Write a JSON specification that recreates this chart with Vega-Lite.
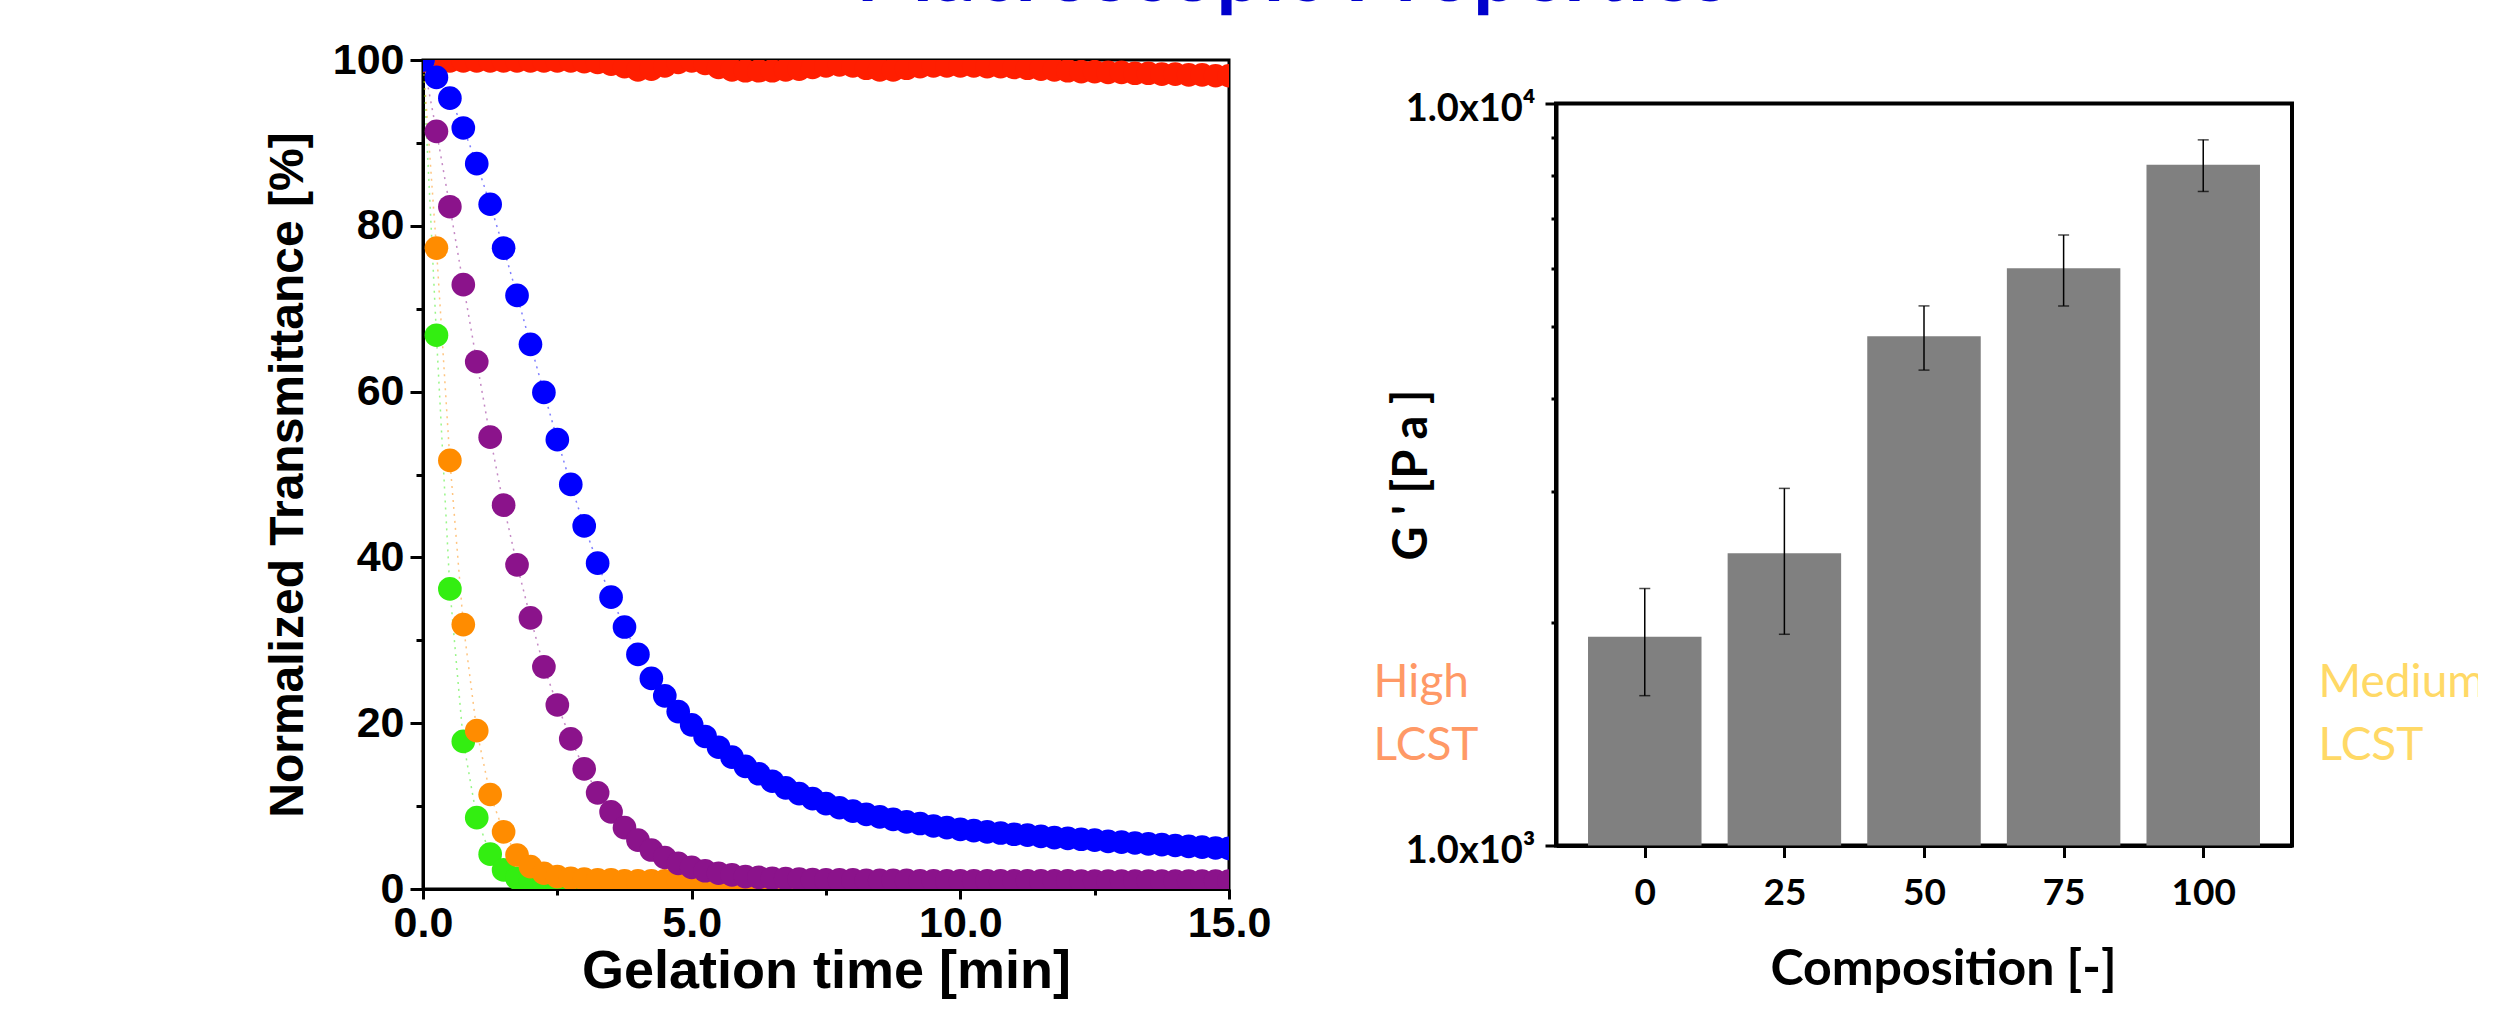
{
  "$schema": "https://vega.github.io/schema/vega-lite/v6.json",
  "background": "white",
  "padding": {"left": 262, "top": -66, "right": -10, "bottom": 8},
  "title": {"text": "Macroscopic Properties", "anchor": "start", "frame": "bounds", "align": "center", "dx": 1030, "offset": -46, "baseline": "alphabetic", "font": "Lato", "fontSize": 83, "fontWeight": "bold", "color": "#0000CC"},
  "spacing": 327,
  "bounds": "flush",
  "center": true,
  "config": {"axis": {"grid": false}},
  "hconcat": [
    {
      "width": 806,
      "height": 829,
      "view": {"stroke": "black", "strokeWidth": 3},
      "data": {"values": [
        {"s":"red","t":0,"v":99.9},{"s":"red","t":0.25,"v":99.9},{"s":"red","t":0.5,"v":99.9},{"s":"red","t":0.75,"v":99.9},{"s":"red","t":1,"v":99.9},{"s":"red","t":1.25,"v":99.9},{"s":"red","t":1.5,"v":99.9},{"s":"red","t":1.75,"v":99.9},{"s":"red","t":2,"v":99.9},{"s":"red","t":2.25,"v":99.9},{"s":"red","t":2.5,"v":99.9},{"s":"red","t":2.75,"v":99.9},{"s":"red","t":3,"v":99.8},{"s":"red","t":3.25,"v":99.7},{"s":"red","t":3.5,"v":99.5},{"s":"red","t":3.75,"v":99.2},{"s":"red","t":4,"v":98.8},{"s":"red","t":4.25,"v":98.9},{"s":"red","t":4.5,"v":99.3},{"s":"red","t":4.75,"v":99.7},{"s":"red","t":5,"v":99.9},{"s":"red","t":5.25,"v":99.6},{"s":"red","t":5.5,"v":99.1},{"s":"red","t":5.75,"v":98.8},{"s":"red","t":6,"v":98.7},{"s":"red","t":6.25,"v":98.7},{"s":"red","t":6.5,"v":98.7},{"s":"red","t":6.75,"v":98.8},{"s":"red","t":7,"v":98.9},{"s":"red","t":7.25,"v":99.1},{"s":"red","t":7.5,"v":99.3},{"s":"red","t":7.75,"v":99.4},{"s":"red","t":8,"v":99.3},{"s":"red","t":8.25,"v":99.0},{"s":"red","t":8.5,"v":98.8},{"s":"red","t":8.75,"v":98.8},{"s":"red","t":9,"v":99.0},{"s":"red","t":9.25,"v":99.2},{"s":"red","t":9.5,"v":99.3},{"s":"red","t":9.75,"v":99.3},{"s":"red","t":10,"v":99.3},{"s":"red","t":10.25,"v":99.3},{"s":"red","t":10.5,"v":99.2},{"s":"red","t":10.75,"v":99.2},{"s":"red","t":11,"v":99.1},{"s":"red","t":11.25,"v":99.0},{"s":"red","t":11.5,"v":98.9},{"s":"red","t":11.75,"v":98.8},{"s":"red","t":12,"v":98.7},{"s":"red","t":12.25,"v":98.6},{"s":"red","t":12.5,"v":98.6},{"s":"red","t":12.75,"v":98.5},{"s":"red","t":13,"v":98.5},{"s":"red","t":13.25,"v":98.4},{"s":"red","t":13.5,"v":98.4},{"s":"red","t":13.75,"v":98.3},{"s":"red","t":14,"v":98.3},{"s":"red","t":14.25,"v":98.2},{"s":"red","t":14.5,"v":98.2},{"s":"red","t":14.75,"v":98.1},{"s":"red","t":15,"v":98.1},
        {"s":"green","t":0,"v":100},{"s":"green","t":0.25,"v":66.8},{"s":"green","t":0.5,"v":36.2},{"s":"green","t":0.75,"v":17.8},{"s":"green","t":1,"v":8.6},{"s":"green","t":1.25,"v":4.2},{"s":"green","t":1.5,"v":2.3},{"s":"green","t":1.75,"v":1.3},{"s":"green","t":2,"v":0.9},{"s":"green","t":2.25,"v":0.7},{"s":"green","t":2.5,"v":0.6},{"s":"green","t":2.75,"v":0.5},{"s":"green","t":3,"v":0.5},{"s":"green","t":3.25,"v":0.5},{"s":"green","t":3.5,"v":0.5},{"s":"green","t":3.75,"v":0.5},{"s":"green","t":4,"v":0.5},{"s":"green","t":4.25,"v":0.5},{"s":"green","t":4.5,"v":0.5},{"s":"green","t":4.75,"v":0.5},{"s":"green","t":5,"v":0.5},{"s":"green","t":5.25,"v":0.5},{"s":"green","t":5.5,"v":0.5},{"s":"green","t":5.75,"v":0.5},{"s":"green","t":6,"v":0.5},{"s":"green","t":6.25,"v":0.5},{"s":"green","t":6.5,"v":0.5},{"s":"green","t":6.75,"v":0.5},{"s":"green","t":7,"v":0.5},{"s":"green","t":7.25,"v":0.5},{"s":"green","t":7.5,"v":0.5},{"s":"green","t":7.75,"v":0.4},{"s":"green","t":8,"v":0.4},{"s":"green","t":8.25,"v":0.4},{"s":"green","t":8.5,"v":0.4},{"s":"green","t":8.75,"v":0.4},{"s":"green","t":9,"v":0.4},{"s":"green","t":9.25,"v":0.4},{"s":"green","t":9.5,"v":0.4},{"s":"green","t":9.75,"v":0.4},{"s":"green","t":10,"v":0.4},{"s":"green","t":10.25,"v":0.4},{"s":"green","t":10.5,"v":0.4},{"s":"green","t":10.75,"v":0.4},{"s":"green","t":11,"v":0.4},{"s":"green","t":11.25,"v":0.4},{"s":"green","t":11.5,"v":0.4},{"s":"green","t":11.75,"v":0.4},{"s":"green","t":12,"v":0.4},{"s":"green","t":12.25,"v":0.4},{"s":"green","t":12.5,"v":0.4},{"s":"green","t":12.75,"v":0.4},{"s":"green","t":13,"v":0.4},{"s":"green","t":13.25,"v":0.4},{"s":"green","t":13.5,"v":0.4},{"s":"green","t":13.75,"v":0.4},{"s":"green","t":14,"v":0.4},{"s":"green","t":14.25,"v":0.4},{"s":"green","t":14.5,"v":0.4},{"s":"green","t":14.75,"v":0.4},{"s":"green","t":15,"v":0.4},
        {"s":"orange","t":0,"v":100},{"s":"orange","t":0.25,"v":77.3},{"s":"orange","t":0.5,"v":51.7},{"s":"orange","t":0.75,"v":31.9},{"s":"orange","t":1,"v":19.1},{"s":"orange","t":1.25,"v":11.4},{"s":"orange","t":1.5,"v":6.9},{"s":"orange","t":1.75,"v":4.1},{"s":"orange","t":2,"v":2.7},{"s":"orange","t":2.25,"v":1.9},{"s":"orange","t":2.5,"v":1.5},{"s":"orange","t":2.75,"v":1.3},{"s":"orange","t":3,"v":1.2},{"s":"orange","t":3.25,"v":1.1},{"s":"orange","t":3.5,"v":1.1},{"s":"orange","t":3.75,"v":1.0},{"s":"orange","t":4,"v":1.0},{"s":"orange","t":4.25,"v":1.0},{"s":"orange","t":4.5,"v":1.0},{"s":"orange","t":4.75,"v":1.0},{"s":"orange","t":5,"v":1.0},{"s":"orange","t":5.25,"v":1.0},{"s":"orange","t":5.5,"v":1.0},{"s":"orange","t":5.75,"v":1.0},{"s":"orange","t":6,"v":1.0},{"s":"orange","t":6.25,"v":0.9},{"s":"orange","t":6.5,"v":0.9},{"s":"orange","t":6.75,"v":0.9},{"s":"orange","t":7,"v":0.9},{"s":"orange","t":7.25,"v":0.9},{"s":"orange","t":7.5,"v":0.9},{"s":"orange","t":7.75,"v":0.9},{"s":"orange","t":8,"v":0.9},{"s":"orange","t":8.25,"v":0.9},{"s":"orange","t":8.5,"v":0.9},{"s":"orange","t":8.75,"v":0.9},{"s":"orange","t":9,"v":0.9},{"s":"orange","t":9.25,"v":0.8},{"s":"orange","t":9.5,"v":0.8},{"s":"orange","t":9.75,"v":0.8},{"s":"orange","t":10,"v":0.8},{"s":"orange","t":10.25,"v":0.8},{"s":"orange","t":10.5,"v":0.8},{"s":"orange","t":10.75,"v":0.8},{"s":"orange","t":11,"v":0.8},{"s":"orange","t":11.25,"v":0.8},{"s":"orange","t":11.5,"v":0.8},{"s":"orange","t":11.75,"v":0.8},{"s":"orange","t":12,"v":0.8},{"s":"orange","t":12.25,"v":0.8},{"s":"orange","t":12.5,"v":0.8},{"s":"orange","t":12.75,"v":0.8},{"s":"orange","t":13,"v":0.8},{"s":"orange","t":13.25,"v":0.8},{"s":"orange","t":13.5,"v":0.8},{"s":"orange","t":13.75,"v":0.8},{"s":"orange","t":14,"v":0.8},{"s":"orange","t":14.25,"v":0.8},{"s":"orange","t":14.5,"v":0.8},{"s":"orange","t":14.75,"v":0.8},{"s":"orange","t":15,"v":0.8},
        {"s":"purple","t":0,"v":100},{"s":"purple","t":0.25,"v":91.4},{"s":"purple","t":0.5,"v":82.3},{"s":"purple","t":0.75,"v":72.9},{"s":"purple","t":1,"v":63.6},{"s":"purple","t":1.25,"v":54.5},{"s":"purple","t":1.5,"v":46.3},{"s":"purple","t":1.75,"v":39.1},{"s":"purple","t":2,"v":32.7},{"s":"purple","t":2.25,"v":26.8},{"s":"purple","t":2.5,"v":22.2},{"s":"purple","t":2.75,"v":18.1},{"s":"purple","t":3,"v":14.5},{"s":"purple","t":3.25,"v":11.6},{"s":"purple","t":3.5,"v":9.3},{"s":"purple","t":3.75,"v":7.4},{"s":"purple","t":4,"v":5.9},{"s":"purple","t":4.25,"v":4.7},{"s":"purple","t":4.5,"v":3.8},{"s":"purple","t":4.75,"v":3.1},{"s":"purple","t":5,"v":2.6},{"s":"purple","t":5.25,"v":2.2},{"s":"purple","t":5.5,"v":1.9},{"s":"purple","t":5.75,"v":1.7},{"s":"purple","t":6,"v":1.5},{"s":"purple","t":6.25,"v":1.4},{"s":"purple","t":6.5,"v":1.3},{"s":"purple","t":6.75,"v":1.25},{"s":"purple","t":7,"v":1.2},{"s":"purple","t":7.25,"v":1.15},{"s":"purple","t":7.5,"v":1.1},{"s":"purple","t":7.75,"v":1.1},{"s":"purple","t":8,"v":1.1},{"s":"purple","t":8.25,"v":1.05},{"s":"purple","t":8.5,"v":1.05},{"s":"purple","t":8.75,"v":1.05},{"s":"purple","t":9,"v":1.05},{"s":"purple","t":9.25,"v":1.0},{"s":"purple","t":9.5,"v":1.0},{"s":"purple","t":9.75,"v":1.0},{"s":"purple","t":10,"v":1.0},{"s":"purple","t":10.25,"v":1.0},{"s":"purple","t":10.5,"v":1.0},{"s":"purple","t":10.75,"v":1.0},{"s":"purple","t":11,"v":1.0},{"s":"purple","t":11.25,"v":1.0},{"s":"purple","t":11.5,"v":1.0},{"s":"purple","t":11.75,"v":1.0},{"s":"purple","t":12,"v":1.0},{"s":"purple","t":12.25,"v":0.95},{"s":"purple","t":12.5,"v":0.95},{"s":"purple","t":12.75,"v":0.95},{"s":"purple","t":13,"v":0.95},{"s":"purple","t":13.25,"v":0.95},{"s":"purple","t":13.5,"v":0.95},{"s":"purple","t":13.75,"v":0.95},{"s":"purple","t":14,"v":0.95},{"s":"purple","t":14.25,"v":0.95},{"s":"purple","t":14.5,"v":0.95},{"s":"purple","t":14.75,"v":0.95},{"s":"purple","t":15,"v":0.95},
        {"s":"blue","t":0,"v":100},{"s":"blue","t":0.25,"v":97.9},{"s":"blue","t":0.5,"v":95.4},{"s":"blue","t":0.75,"v":91.8},{"s":"blue","t":1,"v":87.5},{"s":"blue","t":1.25,"v":82.6},{"s":"blue","t":1.5,"v":77.3},{"s":"blue","t":1.75,"v":71.6},{"s":"blue","t":2,"v":65.7},{"s":"blue","t":2.25,"v":59.9},{"s":"blue","t":2.5,"v":54.2},{"s":"blue","t":2.75,"v":48.8},{"s":"blue","t":3,"v":43.8},{"s":"blue","t":3.25,"v":39.3},{"s":"blue","t":3.5,"v":35.2},{"s":"blue","t":3.75,"v":31.6},{"s":"blue","t":4,"v":28.3},{"s":"blue","t":4.25,"v":25.4},{"s":"blue","t":4.5,"v":23.3},{"s":"blue","t":4.75,"v":21.4},{"s":"blue","t":5,"v":19.8},{"s":"blue","t":5.25,"v":18.4},{"s":"blue","t":5.5,"v":17.1},{"s":"blue","t":5.75,"v":15.9},{"s":"blue","t":6,"v":14.8},{"s":"blue","t":6.25,"v":13.9},{"s":"blue","t":6.5,"v":13.0},{"s":"blue","t":6.75,"v":12.2},{"s":"blue","t":7,"v":11.5},{"s":"blue","t":7.25,"v":10.9},{"s":"blue","t":7.5,"v":10.3},{"s":"blue","t":7.75,"v":9.8},{"s":"blue","t":8,"v":9.4},{"s":"blue","t":8.25,"v":9.0},{"s":"blue","t":8.5,"v":8.7},{"s":"blue","t":8.75,"v":8.4},{"s":"blue","t":9,"v":8.1},{"s":"blue","t":9.25,"v":7.9},{"s":"blue","t":9.5,"v":7.6},{"s":"blue","t":9.75,"v":7.4},{"s":"blue","t":10,"v":7.2},{"s":"blue","t":10.25,"v":7.05},{"s":"blue","t":10.5,"v":6.9},{"s":"blue","t":10.75,"v":6.75},{"s":"blue","t":11,"v":6.6},{"s":"blue","t":11.25,"v":6.5},{"s":"blue","t":11.5,"v":6.35},{"s":"blue","t":11.75,"v":6.2},{"s":"blue","t":12,"v":6.1},{"s":"blue","t":12.25,"v":6.0},{"s":"blue","t":12.5,"v":5.9},{"s":"blue","t":12.75,"v":5.75},{"s":"blue","t":13,"v":5.65},{"s":"blue","t":13.25,"v":5.55},{"s":"blue","t":13.5,"v":5.45},{"s":"blue","t":13.75,"v":5.35},{"s":"blue","t":14,"v":5.25},{"s":"blue","t":14.25,"v":5.15},{"s":"blue","t":14.5,"v":5.05},{"s":"blue","t":14.75,"v":4.95},{"s":"blue","t":15,"v":4.9}
      ]},
      "encoding": {
        "x": {"field": "t", "type": "quantitative", "scale": {"domain": [0, 15], "nice": false},
          "axis": {"values": [0, 2.5, 5, 7.5, 10, 12.5, 15], "labelExpr": "datum.value % 5 == 0 ? format(datum.value, '.1f') : ''", "title": "Gelation time [min]", "domainColor": "black", "domainWidth": 3, "tickColor": "black", "tickWidth": 3, "tickSize": {"condition": {"test": "datum.value % 5 == 0", "value": 10}, "value": 6}, "labelFont": "Liberation Sans", "labelFontWeight": "bold", "labelFontSize": 43, "labelColor": "black", "labelPadding": 3, "labelOverlap": false, "labelFlush": false, "titleFont": "Liberation Sans", "titleFontWeight": "bold", "titleFontSize": 54, "titleColor": "black", "titlePadding": -1}},
        "y": {"field": "v", "type": "quantitative", "scale": {"domain": [0, 100], "nice": false},
          "axis": {"values": [0, 10, 20, 30, 40, 50, 60, 70, 80, 90, 100], "labelExpr": "datum.value % 20 == 0 ? format(datum.value, 'd') : ''", "title": "Normalized Transmittance [%]", "domainColor": "black", "domainWidth": 3, "tickColor": "black", "tickWidth": 3, "tickSize": {"condition": {"test": "datum.value % 20 == 0", "value": 13}, "value": 7}, "labelFont": "Liberation Sans", "labelFontWeight": "bold", "labelFontSize": 43, "labelColor": "black", "labelPadding": 6, "labelOverlap": false, "titleFont": "Liberation Sans", "titleFontWeight": "bold", "titleFontSize": 48, "titleColor": "black", "titlePadding": 20}},
        "color": {"field": "s", "type": "nominal", "scale": {"domain": ["red", "green", "orange", "purple", "blue"], "range": ["#FF1E00", "#33EE11", "#FF8C00", "#8B138B", "#0000FF"]}, "legend": null}
      },
      "layer": [
        {"mark": {"type": "line", "clip": true, "strokeDash": [2, 5], "strokeWidth": 1.5, "opacity": 0.5}},
        {"mark": {"type": "point", "shape": "circle", "filled": true, "size": 560, "opacity": 1, "clip": true}}
      ]
    },
    {
      "width": 736,
      "height": 742,
      "view": {"stroke": "black", "strokeWidth": 4},
      "data": {"values": [
        {"c": 0, "g": 1911, "lo": 1592, "hi": 2220},
        {"c": 25, "g": 2477, "lo": 1926, "hi": 3029},
        {"c": 50, "g": 4858, "lo": 4372, "hi": 5336},
        {"c": 75, "g": 5996, "lo": 5336, "hi": 6649},
        {"c": 100, "g": 8271, "lo": 7611, "hi": 8933}
      ]},
      "layer": [
        {
          "mark": {"type": "bar", "size": 113.5, "color": "#808080"},
          "encoding": {
            "x": {"field": "c", "type": "quantitative", "scale": {"domain": [-15, 115], "nice": false, "zero": false},
              "axis": {"values": [0, 25, 50, 75, 100], "format": "d", "title": "Composition [-]", "domainColor": "black", "domainWidth": 4, "tickColor": "black", "tickWidth": 3, "tickSize": 12, "labelFont": "Lato", "labelFontWeight": "bold", "labelFontSize": 37, "labelColor": "black", "labelPadding": 18, "labelFlush": false, "labelOverlap": false, "titleFont": "Lato", "titleFontWeight": "bold", "titleFontSize": 50, "titleColor": "black", "titlePadding": 33, "titleX": 387}},
            "y": {"field": "g", "type": "quantitative", "title": "G ' [P a ]", "scale": {"type": "log", "domain": [1000, 10000], "nice": false},
              "axis": {"values": [1000, 2000, 3000, 4000, 5000, 6000, 7000, 8000, 9000, 10000], "labelExpr": "datum.value == 10000 ? '1.0x10⁴' : (datum.value == 1000 ? '1.0x10³' : '')", "domainColor": "black", "domainWidth": 4, "tickColor": "black", "tickWidth": 3, "tickSize": {"condition": {"test": "datum.value == 1000 || datum.value == 10000", "value": 11}, "value": 5}, "labelFont": "Lato", "labelFontWeight": "bold", "labelFontSize": 38, "labelColor": "black", "labelPadding": 10, "labelOffset": 6, "labelOverlap": false, "titleFont": "Lato", "titleFontWeight": "bold", "titleFontSize": 47, "titleColor": "black", "titlePadding": -31}},
            "y2": {"datum": 1000}
          }
        },
        {
          "mark": {"type": "rule", "color": "black", "strokeWidth": 1.5},
          "encoding": {"x": {"field": "c", "type": "quantitative"}, "y": {"field": "lo", "type": "quantitative"}, "y2": {"field": "hi"}}
        },
        {
          "mark": {"type": "tick", "orient": "horizontal", "size": 11, "thickness": 1.5, "color": "black"},
          "encoding": {"x": {"field": "c", "type": "quantitative"}, "y": {"field": "lo", "type": "quantitative"}}
        },
        {
          "mark": {"type": "tick", "orient": "horizontal", "size": 11, "thickness": 1.5, "color": "black"},
          "encoding": {"x": {"field": "c", "type": "quantitative"}, "y": {"field": "hi", "type": "quantitative"}}
        },
        {
          "data": {"values": [{"note": "High\nLCST"}]},
          "mark": {"type": "text", "align": "left", "baseline": "alphabetic", "font": "Lato", "fontSize": 46, "color": "#FF9966", "lineBreak": "\n", "lineHeight": 63},
          "encoding": {"x": {"datum": -48.56, "type": "quantitative"}, "y": {"datum": 1585, "type": "quantitative"}, "text": {"field": "note"}}
        },
        {
          "data": {"values": [{"note": "Medium\nLCST"}]},
          "mark": {"type": "text", "align": "left", "baseline": "alphabetic", "font": "Lato", "fontSize": 46, "color": "#FFD966", "lineBreak": "\n", "lineHeight": 63},
          "encoding": {"x": {"datum": 120.65, "type": "quantitative"}, "y": {"datum": 1585, "type": "quantitative"}, "text": {"field": "note"}}
        }
      ]
    }
  ]
}
